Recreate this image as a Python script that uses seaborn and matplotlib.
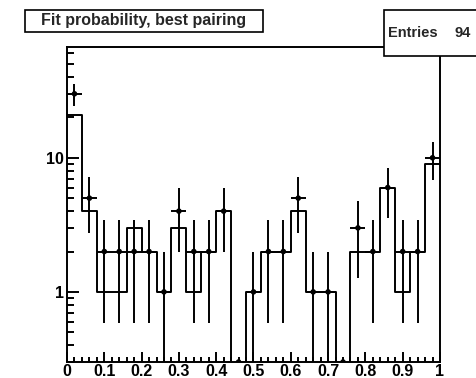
import numpy as np
import pandas as pd
import matplotlib
matplotlib.use("Agg")
import matplotlib.pyplot as plt
from matplotlib.patches import Rectangle
from matplotlib.ticker import MultipleLocator, LogLocator, NullFormatter
import seaborn as sns

# Fit probability histogram: 25 bins over [0, 1]
n_bins = 25
prob_range = (0.0, 1.0)
observed = [30, 5, 2, 2, 2, 2, 1, 4, 2, 2, 4, 0, 1, 2, 2, 5, 1, 1, 0, 3, 2, 6, 2, 2, 10]
reference = [21, 4, 1, 1, 3, 2, 1, 3, 1, 2, 4, 0, 1, 2, 2, 4, 1, 1, 0, 2, 2, 6, 1, 2, 9]
x_ticks = [0.0, 0.1, 0.2, 0.3, 0.4, 0.5, 0.6, 0.7, 0.8, 0.9, 1.0]
x_tick_labels = ["0", "0.1", "0.2", "0.3", "0.4", "0.5", "0.6", "0.7", "0.8", "0.9", "1"]
y_ticks = [1, 10]
y_tick_labels = ["1", "10"]
y_limits = (0.3, 67)
title = "Fit probability, best pairing"
entries = 94

sns.set_style("ticks")
plt.rcParams["font.family"] = ["Liberation Sans", "DejaVu Sans"]
plt.rcParams["font.weight"] = "bold"

edges = np.linspace(prob_range[0], prob_range[1], n_bins + 1)
centers = 0.5 * (edges[:-1] + edges[1:])
half_width = 0.5 * (edges[1] - edges[0])
df = pd.DataFrame({"center": centers, "observed": observed, "reference": reference})

fig = plt.figure(figsize=(4.77, 3.78), dpi=100)
ax = fig.add_axes([67 / 477, 16 / 378, 373 / 477, 315 / 378])

lw = 1.4
# reference histogram as an outline
sns.histplot(data=df, x="center", weights="reference", bins=n_bins,
             binrange=prob_range, element="step", fill=False, color="black",
             linewidth=lw, ax=ax)
ax.set_yscale("log")

# observed counts with Poisson errors
nz = df[df["observed"] > 0]
y = nz["observed"].to_numpy(dtype=float)
err = np.sqrt(y)
low = y - np.maximum(y - err, 1e-3)
ax.errorbar(nz["center"], y, xerr=half_width, yerr=[low, err], fmt="none",
            ecolor="black", elinewidth=lw, capsize=0, zorder=3)
marker_y = np.where(df["observed"] > 0, df["observed"], y_limits[0])
sns.scatterplot(x=df["center"], y=marker_y, color="black", s=16,
                edgecolor="none", zorder=4, ax=ax)

ax.set_xlim(*prob_range)
ax.set_ylim(*y_limits)
ax.set_xlabel("")
ax.set_ylabel("")

tick_fs = 11.5
ax.set_xticks(x_ticks)
ax.set_xticklabels(x_tick_labels, fontsize=tick_fs, fontweight="bold")
ax.xaxis.set_minor_locator(MultipleLocator(0.02))
ax.set_yticks(y_ticks)
ax.set_yticklabels(y_tick_labels, fontsize=tick_fs, fontweight="bold")
ax.yaxis.set_minor_locator(LogLocator(base=10, subs=np.arange(2, 10)))
ax.yaxis.set_minor_formatter(NullFormatter())

ax.tick_params(axis="both", which="both", direction="in", top=False, right=False,
               width=lw, color="black", labelcolor="black")
ax.tick_params(axis="x", which="major", length=7.5, pad=1.5)
ax.tick_params(axis="x", which="minor", length=3.8)
ax.tick_params(axis="y", which="major", length=8.5, pad=2.5)
ax.tick_params(axis="y", which="minor", length=5)
for s in ax.spines.values():
    s.set_linewidth(lw)
    s.set_color("black")

# title box
fig.patches.append(Rectangle((25 / 477, 1 - 32 / 378), 238 / 477, 22 / 378,
                             transform=fig.transFigure, facecolor="white",
                             edgecolor="black", linewidth=1.2, zorder=5))
fig.text(144 / 477, 1 - 21 / 378, title, ha="center", va="center",
         fontsize=11.5, fontweight="bold", zorder=6)

# statistics box
fig.patches.append(Rectangle((384 / 477, 1 - 56 / 378), 100 / 477, 46 / 378,
                             transform=fig.transFigure, facecolor="white",
                             edgecolor="black", linewidth=1.2, zorder=5))
fig.text(388 / 477, 1 - 33 / 378, "Entries", ha="left", va="center",
         fontsize=10.5, fontweight="bold", zorder=6)
fig.text(471 / 477, 1 - 33 / 378, str(entries), ha="right", va="center",
         fontsize=10.5, fontweight="bold", zorder=6)

fig.savefig("out.png", dpi=100)
